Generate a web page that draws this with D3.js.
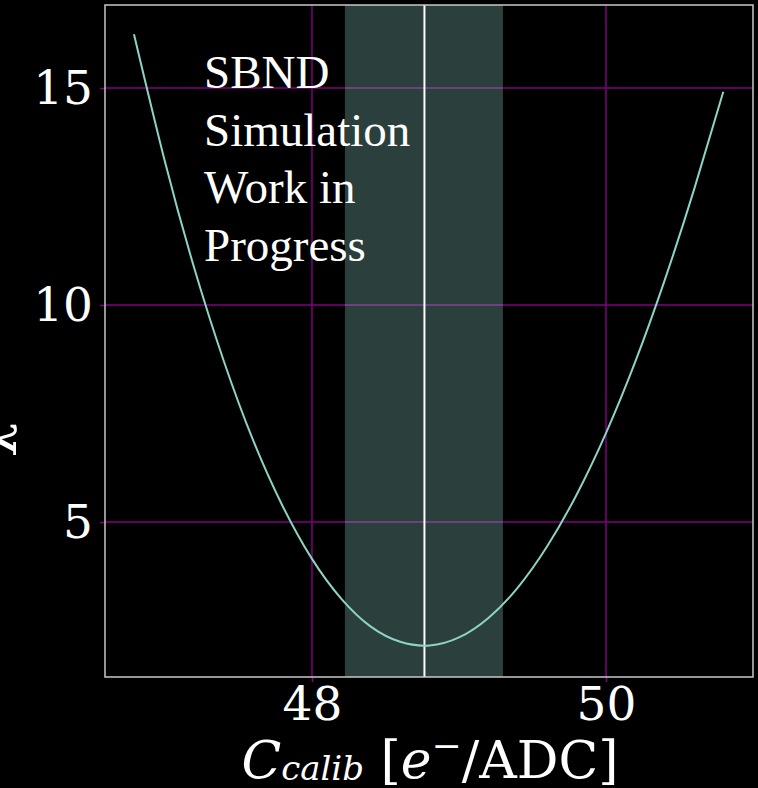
<!DOCTYPE html>
<html>
<head>
<meta charset="utf-8">
<script src="https://cdn.jsdelivr.net/npm/d3@7"></script>
<style>
  html, body { margin: 0; padding: 0; background: #000; }
  svg { display: block; }
</style>
</head>
<body>
<div class="chart"></div>
<script>
// curve: calibration constant vs chi2
const cCalib = [46.789, 47.0, 47.2, 47.4, 47.6, 47.8, 48.0, 48.2, 48.4, 48.6, 48.8, 49.0, 49.2, 49.4, 49.6, 49.8, 50.0, 50.2, 50.4, 50.6, 50.798];
const chi2 = [16.24, 13.30, 10.84, 8.71, 6.88, 5.37, 4.15, 3.23, 2.59, 2.24, 2.155, 2.34, 2.79, 3.49, 4.44, 5.63, 7.05, 8.70, 10.58, 12.67, 14.915];

const bestFit = 48.765;
const band = [48.224, 49.299];

const xTicks = [48, 50];
const yTicks = [5, 10, 15];
const noteLines = ['SBND', 'Simulation', 'Work in', 'Progress'];

const width = 758;
const height = 788;
const margin = { top: 5, right: 5, bottom: 111, left: 105 };

const svg = d3.select('.chart')
  .append('svg')
  .attr('width', width)
  .attr('height', height)
  .style('background', '#000');

const xScale = d3.scaleLinear()
  .domain([46.592, 51.0])
  .range([margin.left, width - margin.right]);

const yScale = d3.scaleLinear()
  .domain([1.429, 16.912])
  .range([height - margin.bottom, margin.top]);

// grid
svg.append('g')
  .selectAll('line.gx')
  .data(xTicks)
  .join('line')
  .attr('x1', d => xScale(d)).attr('x2', d => xScale(d))
  .attr('y1', margin.top).attr('y2', height - margin.bottom)
  .attr('stroke', '#800080').attr('stroke-width', 1.5);

svg.append('g')
  .selectAll('line.gy')
  .data(yTicks)
  .join('line')
  .attr('x1', margin.left).attr('x2', width - margin.right)
  .attr('y1', d => yScale(d)).attr('y2', d => yScale(d))
  .attr('stroke', '#800080').attr('stroke-width', 1.5);

// uncertainty band
svg.append('rect')
  .attr('x', xScale(band[0]))
  .attr('y', margin.top)
  .attr('width', xScale(band[1]) - xScale(band[0]))
  .attr('height', height - margin.bottom - margin.top)
  .attr('fill', '#8dd3c7')
  .attr('fill-opacity', 0.3);

// best fit line
svg.append('line')
  .attr('x1', xScale(bestFit)).attr('x2', xScale(bestFit))
  .attr('y1', margin.top).attr('y2', height - margin.bottom)
  .attr('stroke', '#fff').attr('stroke-width', 2);

// chi2 curve
const lineGenerator = d3.line()
  .x((d, i) => xScale(cCalib[i]))
  .y(d => yScale(d))
  .curve(d3.curveNatural);

svg.append('path')
  .attr('d', lineGenerator(chi2))
  .attr('fill', 'none')
  .attr('stroke', '#8dd3c7')
  .attr('stroke-width', 2);

// axes
const xAxis = d3.axisBottom(xScale).tickValues(xTicks).tickFormat(d3.format('d')).tickSize(5).tickPadding(5);
const yAxis = d3.axisLeft(yScale).tickValues(yTicks).tickFormat(d3.format('d')).tickSize(5).tickPadding(7);

const gx = svg.append('g')
  .attr('transform', `translate(0, ${height - margin.bottom})`)
  .call(xAxis);
const gy = svg.append('g')
  .attr('transform', `translate(${margin.left}, 0)`)
  .call(yAxis);

[gx, gy].forEach(g => {
  g.select('.domain').remove();
  g.selectAll('line').attr('stroke', '#800080').attr('stroke-width', 1.5);
  g.selectAll('text')
    .attr('fill', '#fff')
    .style('font-family', '"DejaVu Serif", serif')
    .style('font-size', '47px');
});

// frame
svg.append('rect')
  .attr('x', margin.left)
  .attr('y', margin.top)
  .attr('width', width - margin.left - margin.right)
  .attr('height', height - margin.top - margin.bottom)
  .attr('fill', 'none')
  .attr('stroke', '#c8c8c8')
  .attr('stroke-width', 1.5);

// note
svg.append('text')
  .attr('x', 204)
  .attr('y', 88)
  .attr('fill', '#fff')
  .style('font-family', '"Liberation Serif", "Times New Roman", serif')
  .style('font-size', '47px')
  .selectAll('tspan')
  .data(noteLines)
  .join('tspan')
  .attr('x', 204)
  .attr('dy', (d, i) => i === 0 ? 0 : 57.5)
  .text(d => d);

// x label
const xLabel = svg.append('text')
  .attr('x', 430)
  .attr('y', 778)
  .attr('text-anchor', 'middle')
  .attr('fill', '#fff')
  .style('font-family', '"DejaVu Serif", serif')
  .style('font-size', '52px');
xLabel.append('tspan').style('font-style', 'italic').text('C');
xLabel.append('tspan').style('font-style', 'italic').style('font-size', '34px').attr('dy', 2).text('calib');
xLabel.append('tspan').attr('dy', -2).text(' [');
xLabel.append('tspan').style('font-style', 'italic').text('e');
xLabel.append('tspan').style('font-size', '36px').attr('dy', -20).text('\u2212');
xLabel.append('tspan').attr('dy', 20).text('/ADC]');

// y label, mostly outside the picture
svg.append('text')
  .attr('transform', 'translate(5, 428) rotate(-90)')
  .attr('text-anchor', 'middle')
  .attr('fill', '#fff')
  .style('font-family', '"DejaVu Serif", serif')
  .style('font-size', '55px')
  .text('\u03c7\u00b2');
</script>
</body>
</html>
